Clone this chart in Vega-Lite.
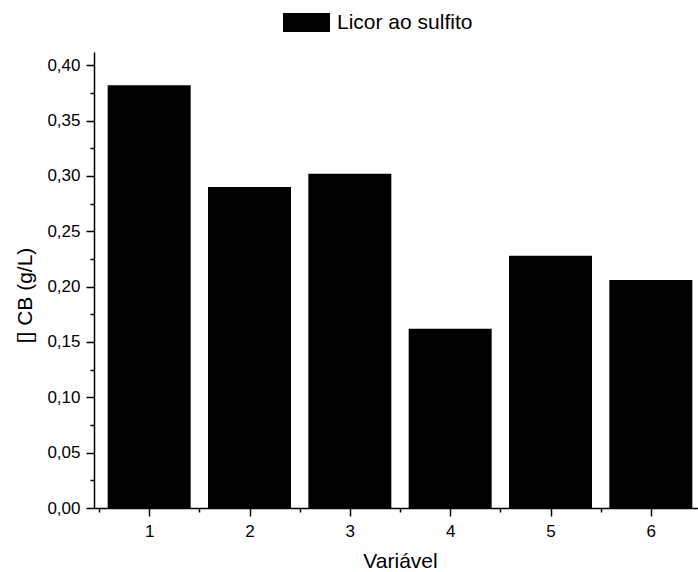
{
  "$schema": "https://vega.github.io/schema/vega-lite/v6.json",
  "width": 612,
  "height": 456,
  "autosize": "none",
  "padding": {"left": 94, "top": 52, "right": 0, "bottom": 64},
  "background": "white",
  "config": {
    "view": {"stroke": null},
    "font": "Liberation Sans",
    "axis": {
      "grid": false,
      "domainColor": "#000000",
      "tickColor": "#000000",
      "labelColor": "#000000",
      "titleColor": "#000000",
      "labelFont": "Liberation Sans",
      "titleFont": "Liberation Sans",
      "labelFontSize": 17,
      "titleFontSize": 21,
      "titleFontWeight": "normal",
      "domainWidth": 1.5,
      "tickWidth": 1.5
    }
  },
  "data": {
    "values": [
      {"variavel": 1, "cb": 0.382, "serie": "Licor ao sulfito"},
      {"variavel": 2, "cb": 0.290, "serie": "Licor ao sulfito"},
      {"variavel": 3, "cb": 0.302, "serie": "Licor ao sulfito"},
      {"variavel": 4, "cb": 0.162, "serie": "Licor ao sulfito"},
      {"variavel": 5, "cb": 0.228, "serie": "Licor ao sulfito"},
      {"variavel": 6, "cb": 0.206, "serie": "Licor ao sulfito"}
    ]
  },
  "mark": {"type": "bar", "size": 83},
  "encoding": {
    "x": {
      "field": "variavel",
      "type": "quantitative",
      "scale": {"domain": [0.5, 6.5], "nice": false, "zero": false},
      "axis": {
        "title": "Variável",
        "values": [0.5, 1, 1.5, 2, 2.5, 3, 3.5, 4, 4.5, 5, 5.5, 6, 6.5],
        "labelExpr": "datum.value % 1 == 0 ? format(datum.value, 'd') : ''",
        "tickSize": {"condition": {"test": "datum.value % 1 == 0", "value": 8}, "value": 4},
        "labelOverlap": false,
        "labelPadding": 7,
        "titlePadding": 11
      }
    },
    "y": {
      "field": "cb",
      "type": "quantitative",
      "scale": {"domain": [0, 0.412], "nice": false},
      "axis": {
        "title": "[] CB (g/L)",
        "values": [0, 0.025, 0.05, 0.075, 0.1, 0.125, 0.15, 0.175, 0.2, 0.225, 0.25, 0.275, 0.3, 0.325, 0.35, 0.375, 0.4],
        "labelExpr": "round(datum.value*40) % 2 == 0 ? replace(format(datum.value, '.2f'), '.', ',') : ''",
        "tickSize": {"condition": {"test": "round(datum.value*40) % 2 == 0", "value": 8}, "value": 4},
        "labelOverlap": false,
        "labelPadding": 6,
        "titlePadding": 11,
        "titleY": 243
      }
    },
    "color": {
      "field": "serie",
      "type": "nominal",
      "scale": {"range": ["#000000"]},
      "legend": {
        "title": null,
        "orient": "none",
        "legendX": 189,
        "legendY": -53,
        "symbolType": "M-1,-0.404L1,-0.404L1,0.404L-1,0.404Z",
        "symbolSize": 2209,
        "symbolStrokeWidth": 0,
        "symbolOpacity": 1,
        "labelFontSize": 21,
        "labelFont": "Liberation Sans",
        "labelOffset": 7,
        "labelColor": "#000000"
      }
    }
  }
}
